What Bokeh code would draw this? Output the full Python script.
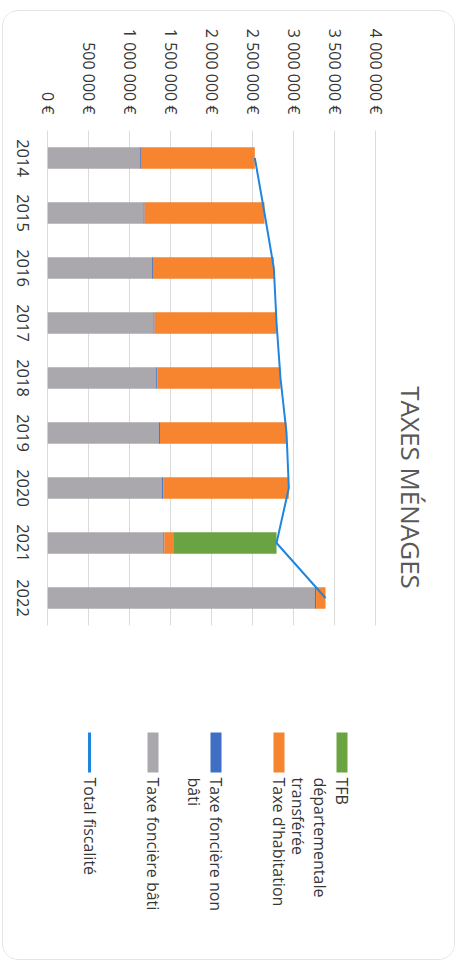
import math

from bokeh.core.properties import value
from bokeh.embed import file_html
from bokeh.layouts import column
from bokeh.models import (ColumnDataSource, FactorRange, FixedTicker, Label,
                          Range1d)
from bokeh.plotting import figure
from bokeh.resources import INLINE

# ---- data -------------------------------------------------------------
years = ["2014", "2015", "2016", "2017", "2018", "2019", "2020", "2021", "2022"]
tf_bati = [1123000, 1168000, 1270000, 1290000, 1323000, 1356000, 1395000, 1410000, 3262000]
tf_non_bati = [13000, 13000, 13000, 13000, 13000, 13000, 13000, 13000, 13000]
taxe_habitation = [1391000, 1464000, 1476000, 1489000, 1504000, 1545000, 1534000, 108000, 115000]
tfb_departementale = [0, 0, 0, 0, 0, 0, 0, 1261000, 0]
total_fiscalite = [2527000, 2645000, 2759000, 2792000, 2840000, 2914000, 2942000, 2792000, 3390000]

tick_values = [0, 500000, 1000000, 1500000, 2000000, 2500000, 3000000, 3500000, 4000000]
tick_labels = ["0 €", "500 000 €", "1 000 000 €", "1 500 000 €", "2 000 000 €",
               "2 500 000 €", "3 000 000 €", "3 500 000 €", "4 000 000 €"]

title_text = "TAXES MÉNAGES"
legend_lines = [["TFB", "départementale", "transférée"], ["Taxe d'habitation"],
                ["Taxe foncière non", "bâti"], ["Taxe foncière bâti"], ["Total fiscalité"]]

# ---- styling -----------------------------------------------------------
FONT = "Open Sans"
TEXT = "#363636"
C_BATI, C_NON_BATI, C_TH, C_TFB = "#aaa8ad", "#3f6fc5", "#f7842f", "#6aa341"
C_TOTAL = "#1f86e0"
legend_colors = [C_TFB, C_TH, C_NON_BATI, C_BATI, C_TOTAL]
ROT = -math.pi / 2  # text reads top to bottom

# ---- layout (pixels inside the card) -----------------------------------
CARD_W = 451
MAIN_H = 689
LEGEND_H = 259
FRAME_TOP = 119
FRAME_H = 495
ZERO_PX, FULL_PX = 44.3, 372.0          # where 0 € and 4 000 000 € fall
per_px = 4000000 / (FULL_PX - ZERO_PX)
x_start = -ZERO_PX * per_px
x_end = (CARD_W - ZERO_PX) * per_px

source = ColumnDataSource(dict(
    year=years, bati=tf_bati, non_bati=tf_non_bati, th=taxe_habitation,
    tfb=tfb_departementale, total=total_fiscalite,
))

p = figure(
    width=CARD_W, height=MAIN_H,
    x_range=Range1d(x_start, x_end),
    y_range=FactorRange(factors=years[::-1]),
    x_axis_location="above",
    output_backend="svg", toolbar_location=None,
    min_border_left=0, min_border_right=0,
    min_border_top=FRAME_TOP, min_border_bottom=MAIN_H - FRAME_TOP - FRAME_H,
    background_fill_color="white", border_fill_color="white",
)
p.outline_line_color = None

p.hbar_stack(["bati", "non_bati", "th", "tfb"], y="year", height=0.39,
             color=[C_BATI, C_NON_BATI, C_TH, C_TFB], line_color=None,
             source=source)
p.line(x="total", y="year", source=source, color=C_TOTAL, line_width=2)

# year labels, read top to bottom, centred on each bar
p.text(x=-25 * per_px, y="year", text="year", source=source, angle=ROT,
       text_align="center", text_baseline="middle",
       text_font=value(FONT), text_font_size="16.5px", text_color=TEXT)
p.yaxis.visible = False

# value axis (top)
xa = p.xaxis[0]
xa.ticker = FixedTicker(ticks=tick_values)
xa.major_label_overrides = dict(zip(tick_values, tick_labels))
xa.major_label_orientation = ROT
xa.major_tick_out = 0
xa.major_tick_in = 0
xa.major_label_standoff = 16
xa.major_label_text_font = FONT
xa.major_label_text_font_size = "16px"
xa.major_label_text_color = TEXT
xa.axis_line_color = None
xa.major_tick_line_color = None
xa.minor_tick_line_color = None

p.xgrid.grid_line_color = "#dadada"
p.ygrid.grid_line_color = None

p.add_layout(Label(
    x=407, y=138, x_units="screen", y_units="screen",
    text=title_text, angle=ROT, text_align="center", text_baseline="middle",
    text_font=FONT, text_font_size="26px", text_color="#595959",
))

# ---- legend panel: one column per entry, right to left ------------------
lg = figure(
    width=CARD_W, height=LEGEND_H,
    x_range=Range1d(0, CARD_W), y_range=Range1d(LEGEND_H, 0),
    output_backend="svg", toolbar_location=None,
    min_border=0, background_fill_color="white", border_fill_color="white",
)
lg.axis.visible = False
lg.grid.visible = False
lg.outline_line_color = None

col_x = [338.5, 275.5, 212.5, 149.5, 86]
box_x, box_w, txt_x = [], [], []
lines_out = []
for i, (lines, cx) in enumerate(zip(legend_lines, col_x)):
    box_x.append(cx)
    box_w.append(3 if i == len(legend_lines) - 1 else 11)
    for j, line in enumerate(lines):
        txt_x.append(cx - 22 * j)
        lines_out.append(line)

lg.rect(x=box_x, y=52, width=box_w, height=40, color=legend_colors, line_color=None)
lg.text(x=txt_x, y=77, text=lines_out, angle=ROT, text_align="left",
        text_baseline="middle", text_font=value(FONT), text_font_size="16px",
        text_color=TEXT)

layout = column(
    p, lg, spacing=0,
    styles={"margin": "10px 0 0 2px", "border": "1px solid #e4e4e4",
            "border-radius": "16px", "overflow": "hidden", "background": "white"},
)

open("out.html", "w").write(file_html(layout, INLINE))
